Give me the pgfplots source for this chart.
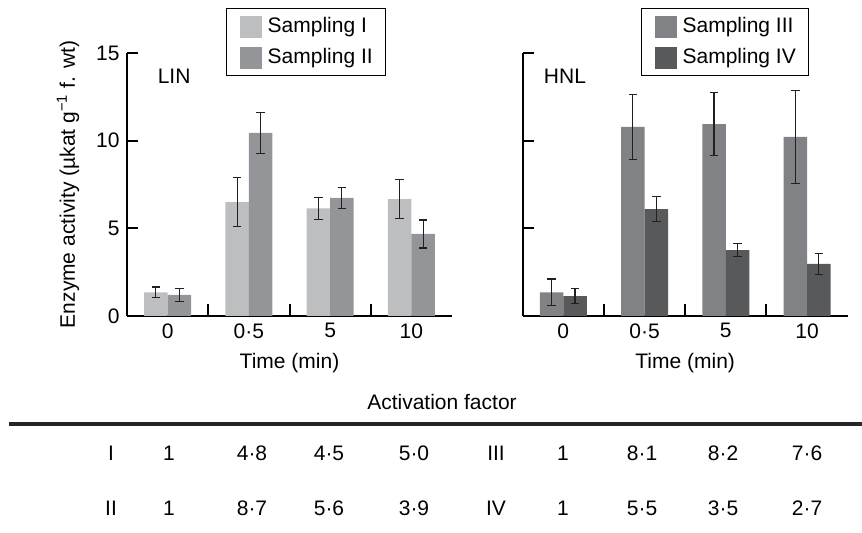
\documentclass[border=0pt]{standalone}
\usepackage{fontspec}
\setmainfont{Liberation Sans}
\usepackage{pgfplots}
\pgfplotsset{compat=1.18}

\definecolor{sampI}{HTML}{BDBEC0}
\definecolor{sampII}{HTML}{939598}
\definecolor{sampIII}{HTML}{818285}
\definecolor{sampIV}{HTML}{58595B}
\definecolor{errc}{HTML}{231F20}

\pgfplotsset{
  panel/.style={
    anchor=south west, scale only axis,
    width=162.5pt, height=131.5pt,
    xmin=-0.5, xmax=3.5, ymin=0, ymax=15,
    ybar=0pt, bar width=11.75pt,
    axis x line*=bottom, axis y line*=left,
    axis line style={line width=1pt, -},
    xtick={0,1,2,3}, xticklabels={0,0·5,5,10},
    major x tick style={draw=none},
    minor xtick={0.5,1.5,2.5},
    ytick={0,5,10,15},
    tick align=inside, major tick length=5.5pt, minor tick length=6pt,
    tick style={line width=1pt, black},
    /pgf/number format/assume math mode=true,
    xlabel={Time (min)},
    xlabel style={at={(axis description cs:0.5,-0.179)}, anchor=center},
    legend cell align=left,
    legend style={anchor=north west, draw=black, line width=0.6pt,
      inner xsep=6.5pt, inner ysep=3.5pt, row sep=4.5pt,
      nodes={inner sep=0pt},
      /tikz/every odd column/.style={column sep=3pt}},
    legend image code/.code={%
      \fill[#1,draw=none] (0pt,-5.5pt) rectangle (11pt,5.5pt);},
    error bars/y dir=both, error bars/y explicit,
    error bars/error bar style={line width=0.6pt, color=errc},
    error bars/error mark options={rotate=90, mark size=2.1pt, line width=0.6pt, color=errc},
  },
}

\begin{document}
\fontsize{10.5}{12.6}\selectfont
\begin{tikzpicture}
\path[use as bounding box] (0pt,0pt) rectangle (431pt,-266.5pt);

\begin{axis}[panel, at={(63.5pt,-158pt)},
  yticklabels={0,5,10,15},
  ylabel={Enzyme activity (µkat g\textsuperscript{−1} f. wt)},
  ylabel style={at={(axis description cs:-0.1815,0.5)}, anchor=center, rotate=0},
  legend style={at={(0.305,1.171)}},
]
\addplot[fill=sampI, draw=none] coordinates {
  (0,1.35) +- (0,0.30) (1,6.50) +- (0,1.40) (2,6.14) +- (0,0.64) (3,6.67) +- (0,1.12)
};
\addplot[fill=sampII, draw=none] coordinates {
  (0,1.20) +- (0,0.36) (1,10.44) +- (0,1.18) (2,6.73) +- (0,0.60) (3,4.68) +- (0,0.80)
};
\legend{Sampling I, Sampling II}
\node at (rel axis cs:0.145,0.91) {LIN};
\end{axis}

\begin{axis}[panel, at={(261.35pt,-158pt)},
  yticklabels={},
  legend style={at={(0.364,1.171)}},
]
\addplot[fill=sampIII, draw=none] coordinates {
  (0,1.35) +- (0,0.76) (1,10.78) +- (0,1.85) (2,10.95) +- (0,1.80) (3,10.21) +- (0,2.66)
};
\addplot[fill=sampIV, draw=none] coordinates {
  (0,1.14) +- (0,0.45) (1,6.10) +- (0,0.73) (2,3.76) +- (0,0.37) (3,2.97) +- (0,0.61)
};
\legend{Sampling III, Sampling IV}
\node at (rel axis cs:0.13,0.91) {HNL};
\end{axis}

% activation factor table
\node at (221pt,-201pt) {Activation factor};
\draw[line width=1.6pt, black!85] (4.5pt,-212pt) -- (431pt,-212pt);
\foreach \x/\t in {55.5/I, 84.5/1, 126/4·8, 164.5/4·5, 207/5·0,
                   248/III, 281.5/1, 321/8·1, 361.5/8·2, 403.5/7·6}
  \node at (\x pt,-226.5pt) {\t};
\foreach \x/\t in {55.5/II, 84.5/1, 126/8·7, 164.5/5·6, 207/3·9,
                   248/IV, 281.5/1, 321/5·5, 361.5/3·5, 403.5/2·7}
  \node at (\x pt,-254pt) {\t};
\end{tikzpicture}
\end{document}
